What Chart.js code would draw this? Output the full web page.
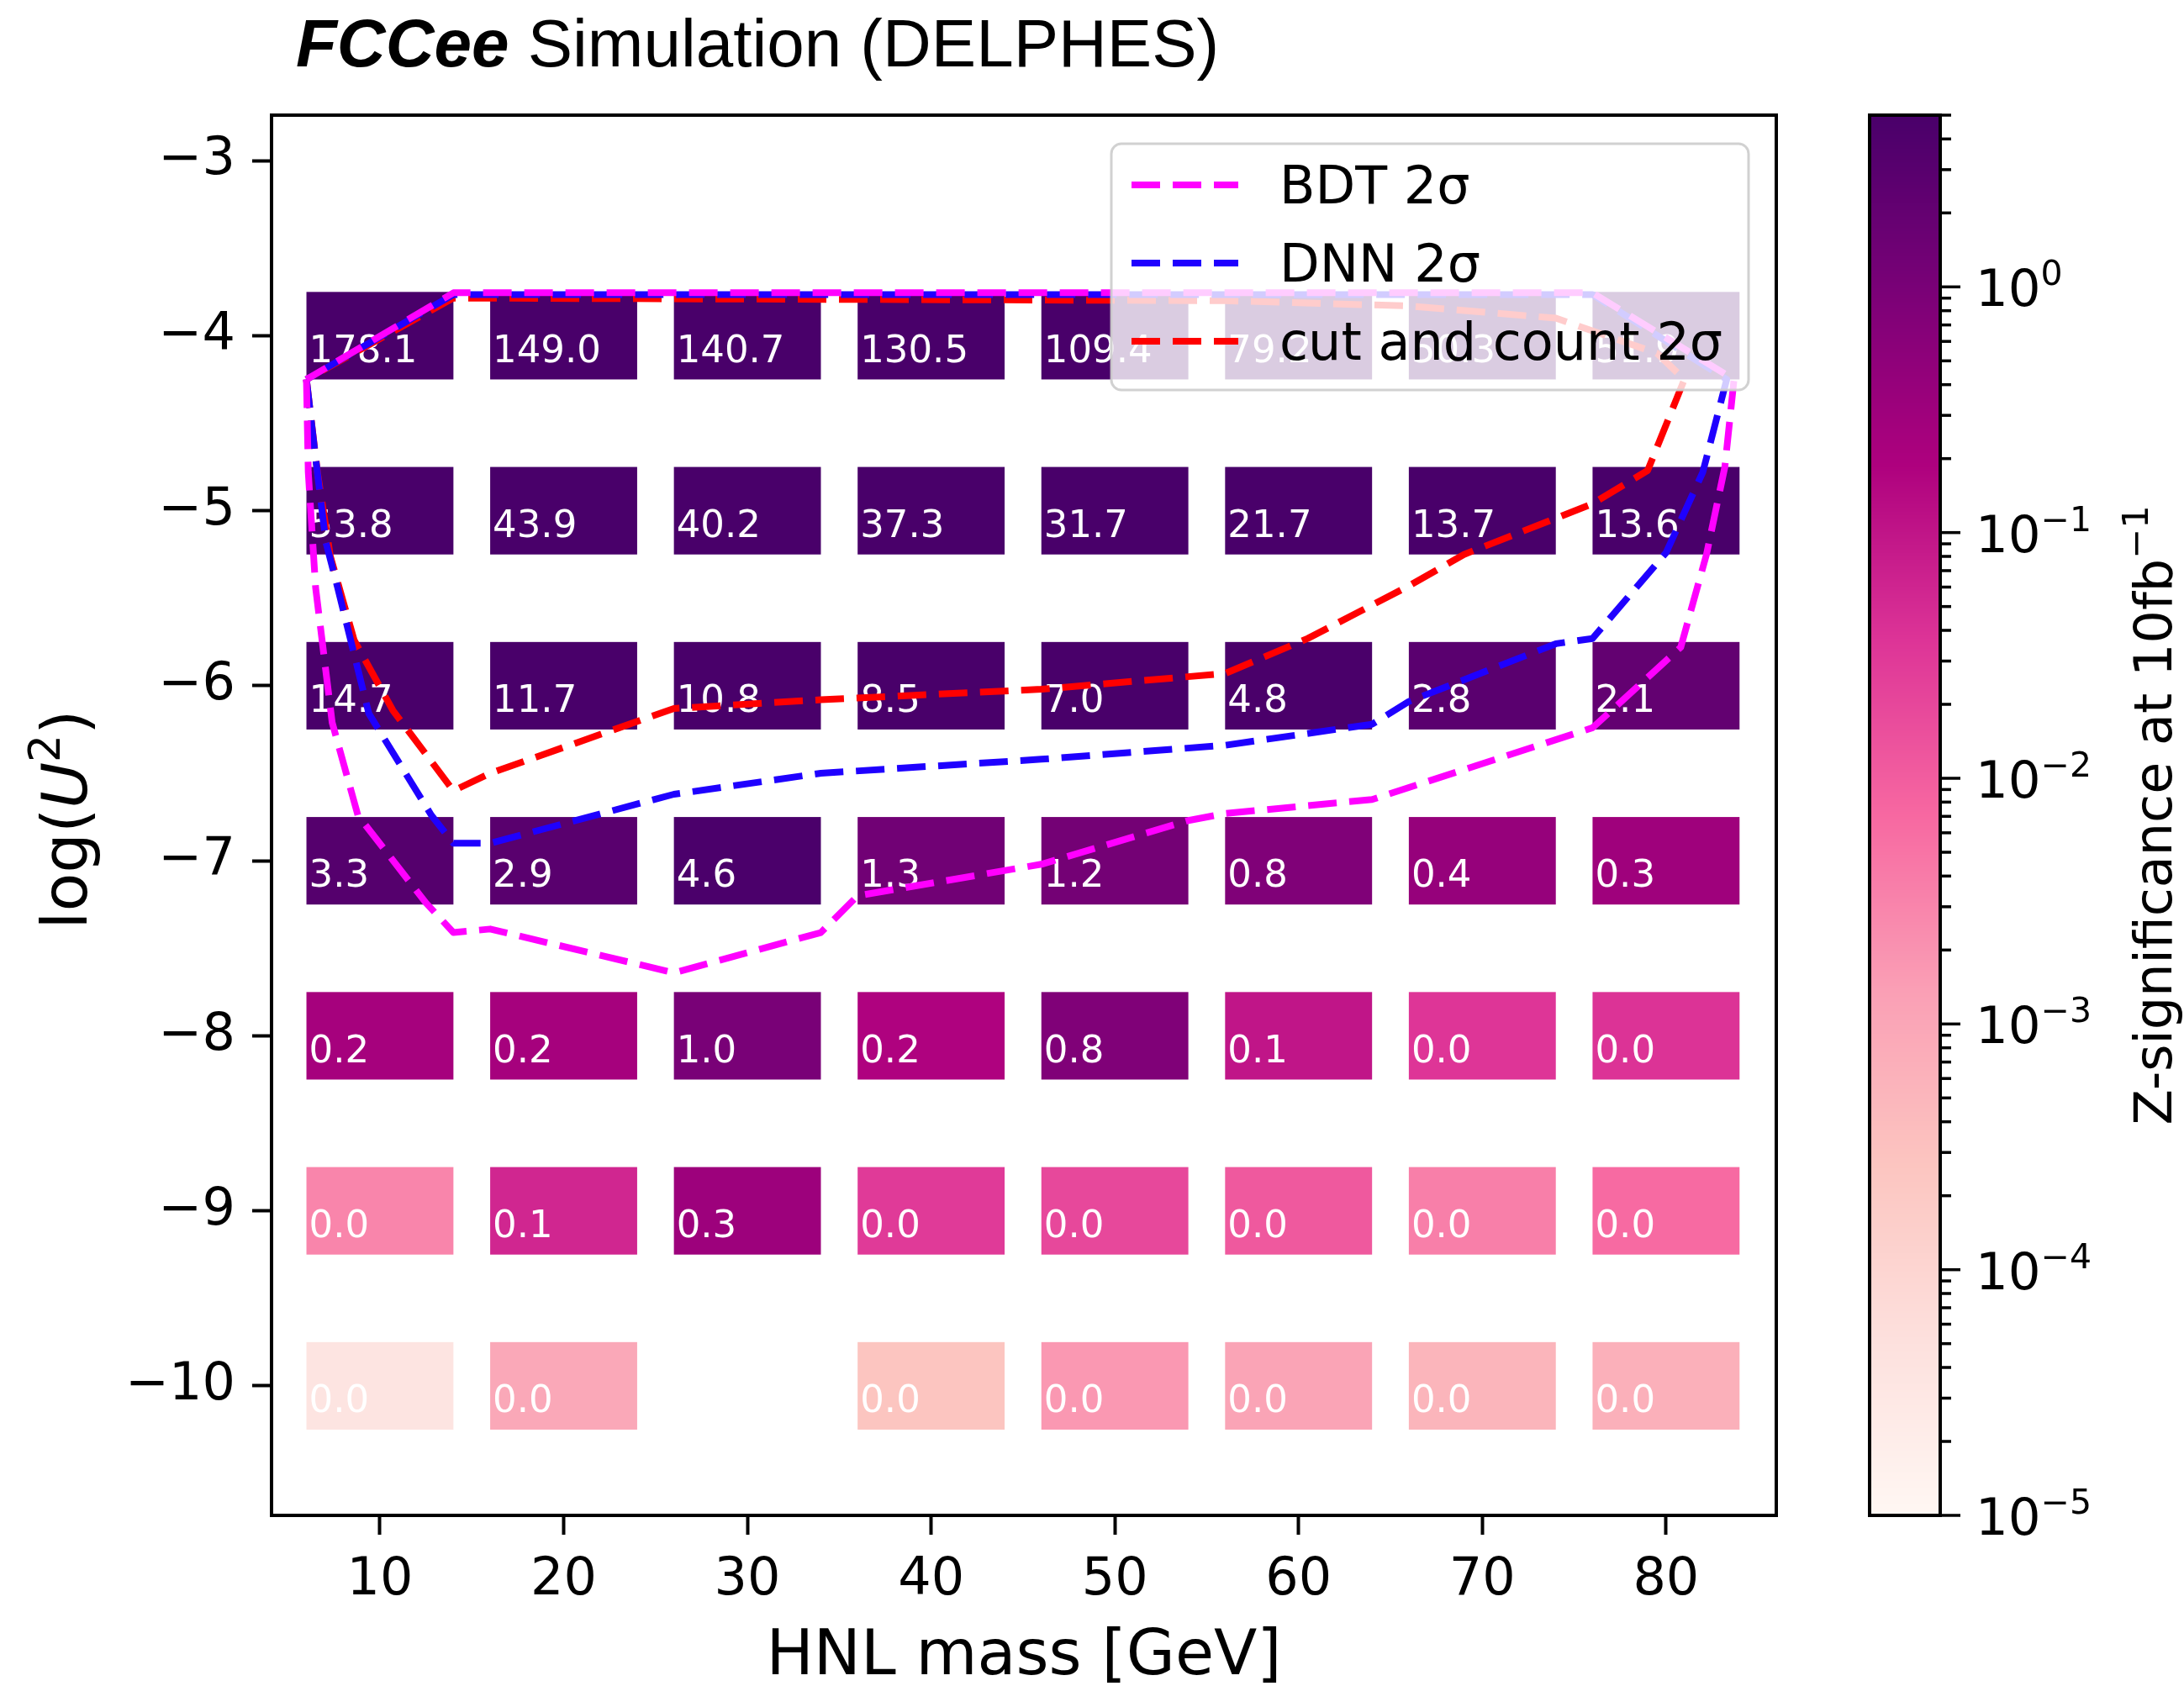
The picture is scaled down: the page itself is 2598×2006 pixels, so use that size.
<!DOCTYPE html>
<html><head><meta charset="utf-8">
<script src="https://cdn.jsdelivr.net/npm/chart.js@4.4.1/dist/chart.umd.min.js"></script>
<style>html,body{margin:0;padding:0;background:#fff;overflow:hidden}canvas{display:block}</style>
</head><body>
<canvas id="c" width="2598" height="2006" style="width:2598px;height:2006px"></canvas>
<script>
// ---------------- data ----------------
const masses = [10, 20, 30, 40, 50, 60, 70, 80];
const logU2Rows = [-4, -5, -6, -7, -8, -9, -10];
// Z-significance per row (values estimated from labels and colours)
const zRowM4  = [178.1, 149.0, 140.7, 130.5, 109.4, 79.2, 50.3, 51.9];
const zRowM5  = [53.8, 43.9, 40.2, 37.3, 31.7, 21.7, 13.7, 13.6];
const zRowM6  = [14.7, 11.7, 10.8, 8.5, 7.0, 4.8, 2.8, 2.1];
const zRowM7  = [3.3, 2.9, 4.6, 1.3, 1.2, 0.8, 0.4, 0.3];
const zRowM8  = [0.24, 0.24, 1.0, 0.18, 0.8, 0.1, 0.035, 0.038];
const zRowM9  = [0.003, 0.058, 0.32, 0.030, 0.0195, 0.0115, 0.0036, 0.0066];
const zRowM10 = [0.000039, 0.00093, null, 0.00027, 0.0017, 0.0011, 0.00053, 0.00066];

const bdtMass  = [6, 6.1, 6.5, 7.4, 8.8, 12.5, 14, 16, 26, 34, 36, 46, 54, 56, 64, 76, 80.8, 82.2, 83.2, 83.7, 76, 14, 6];
const bdtLogU2 = [-4.25, -4.78, -5.44, -6.21, -6.74, -7.24, -7.41, -7.39, -7.64, -7.41, -7.2, -7.02, -6.77, -6.73, -6.65, -6.24, -5.78, -5.25, -4.75, -4.25, -3.755, -3.755, -4.25];
const dnnMass  = [6, 6.5, 7.06, 7.7, 9.4, 12.8, 14, 16, 26, 34, 46, 56, 64, 66, 74, 76, 80, 82, 83.3, 76, 14, 6];
const dnnLogU2 = [-4.25, -4.7, -5.18, -5.44, -6.16, -6.74, -6.9, -6.9, -6.62, -6.5, -6.42, -6.34, -6.22, -6.09, -5.76, -5.73, -5.24, -4.78, -4.25, -3.765, -3.765, -4.25];
const ccMass   = [6, 6.6, 7.3, 8.6, 10.7, 14, 16, 26, 34, 46, 56, 60.5, 66, 69, 76, 79, 81, 79.5, 74, 66, 56, 14, 6];
const ccLogU2  = [-4.25, -4.78, -5.26, -5.74, -6.14, -6.6, -6.5, -6.13, -6.08, -6.02, -5.93, -5.73, -5.43, -5.25, -4.96, -4.77, -4.25, -4.1, -3.9, -3.83, -3.8, -3.785, -4.25];

const seriesNames = ['BDT 2σ', 'DNN 2σ', 'cut and count 2σ'];
const xTicks = [10, 20, 30, 40, 50, 60, 70, 80];
const xTickLabels = ['10', '20', '30', '40', '50', '60', '70', '80'];
const yTicks = [-3, -4, -5, -6, -7, -8, -9, -10];
const yTickLabels = ['−3', '−4', '−5', '−6', '−7', '−8', '−9', '−10'];
const cbDecades = [-5, -4, -3, -2, -1, 0];
const cbDecadeLabels = ['−5', '−4', '−3', '−2', '−1', '0'];
const zMin = 1e-5, zMax = 5;

// ---------------- styling helpers ----------------
const zRows = [zRowM4, zRowM5, zRowM6, zRowM7, zRowM8, zRowM9, zRowM10];
const RDPU = [[255,247,243],[253,224,221],[252,197,192],[250,159,181],[247,104,161],[221,52,151],[174,1,126],[122,1,119],[73,0,106]];
function rdpu(t) {
  t = Math.max(0, Math.min(1, t));
  const s = t * 8, i = Math.min(7, Math.floor(s)), f = s - i;
  const a = RDPU[i], b = RDPU[i + 1];
  return 'rgb(' + [0,1,2].map(k => Math.round(a[k] + (b[k] - a[k]) * f)).join(',') + ')';
}
function cbFraction(chart, v) {
  const cb = chart.scales.cb;
  const p0 = cb.getPixelForValue(zMin), p1 = cb.getPixelForValue(zMax);
  return (cb.getPixelForValue(v) - p0) / (p1 - p0);
}
const FONT = 'DejaVu Sans';
const DASH = [34, 15];
const LW = 8;
const COLORS = ['#ff00ff', '#1f00ff', '#ff0000'];

function drawParts(ctx, parts, x, y, align) {
  let w = 0;
  parts.forEach(p => { ctx.font = p.font; p.w = ctx.measureText(p.t).width; w += p.w; });
  let cx = align === 'center' ? x - w / 2 : x;
  parts.forEach(p => { ctx.font = p.font; ctx.fillText(p.t, cx, y + (p.dy || 0)); cx += p.w; });
}

const cellsPlugin = {
  id: 'cells',
  beforeDatasetsDraw(chart) {
    const ctx = chart.ctx, xs = chart.scales.x, ys = chart.scales.y;
    ctx.save();
    zRows.forEach((row, r) => {
      row.forEach((v, c) => {
        if (v === null) return;
        const x0 = xs.getPixelForValue(masses[c] - 4), x1 = xs.getPixelForValue(masses[c] + 4);
        const y0 = ys.getPixelForValue(logU2Rows[r] + 0.25), y1 = ys.getPixelForValue(logU2Rows[r] - 0.25);
        ctx.fillStyle = rdpu(cbFraction(chart, v));
        ctx.fillRect(x0, y0, x1 - x0, y1 - y0);
      });
    });
    ctx.fillStyle = '#ffffff';
    ctx.font = '45px "' + FONT + '"';
    ctx.textAlign = 'left';
    ctx.textBaseline = 'alphabetic';
    zRows.forEach((row, r) => {
      row.forEach((v, c) => {
        if (v === null) return;
        const x0 = xs.getPixelForValue(masses[c] - 4);
        ctx.fillText(v.toFixed(1), x0 + 3, ys.getPixelForValue(logU2Rows[r] - 0.15));
      });
    });
    ctx.restore();
  }
};

const decorPlugin = {
  id: 'decor',
  afterDatasetsDraw(chart) {
    const ctx = chart.ctx;
    // legend
    ctx.save();
    const lx = 1322, ly = 171, lw = 758, lh = 293, rr = 12;
    ctx.beginPath();
    ctx.roundRect(lx, ly, lw, lh, rr);
    ctx.fillStyle = 'rgba(255,255,255,0.8)';
    ctx.fill();
    ctx.lineWidth = 3;
    ctx.strokeStyle = 'rgba(204,204,204,0.9)';
    ctx.stroke();
    const rowsY = [220, 313, 406];
    seriesNames.forEach((name, i) => {
      ctx.beginPath();
      ctx.setLineDash(DASH);
      ctx.lineWidth = LW;
      ctx.lineCap = 'butt';
      ctx.strokeStyle = COLORS[i];
      ctx.moveTo(1346, rowsY[i]);
      ctx.lineTo(1473, rowsY[i]);
      ctx.stroke();
      ctx.setLineDash([]);
      ctx.fillStyle = '#000';
      ctx.font = '62px "' + FONT + '"';
      ctx.textAlign = 'left';
      ctx.textBaseline = 'alphabetic';
      ctx.fillText(name, 1522, rowsY[i] + 22);
    });
    ctx.restore();
  },
  afterDraw(chart) {
    const ctx = chart.ctx, a = chart.chartArea;
    ctx.save();
    // frame
    ctx.strokeStyle = '#000';
    ctx.lineWidth = 4;
    ctx.strokeRect(a.left, a.top, a.right - a.left, a.bottom - a.top);

    // title
    ctx.fillStyle = '#000';
    ctx.textAlign = 'left';
    ctx.textBaseline = 'alphabetic';
    drawParts(ctx, [
      {t: 'FCCee', font: 'italic bold 80px "Liberation Sans"'},
      {t: ' Simulation (DELPHES)', font: '80px "Liberation Sans"'}
    ], 352, 79, 'left');

    // x label
    ctx.font = '75px "' + FONT + '"';
    ctx.textAlign = 'center';
    ctx.fillText('HNL mass [GeV]', (a.left + a.right) / 2, 1992);

    // y label
    ctx.save();
    ctx.translate(103, 975);
    ctx.rotate(-Math.PI / 2);
    ctx.textAlign = 'left';
    drawParts(ctx, [
      {t: 'log(', font: '75px "' + FONT + '"'},
      {t: 'U', font: 'italic 75px "' + FONT + '"'},
      {t: '2', font: '52px "' + FONT + '"', dy: -32},
      {t: ')', font: '75px "' + FONT + '"'}
    ], 0, 0, 'center');
    ctx.restore();

    // colorbar
    const cb = chart.scales.cb;
    const cx0 = 2224, cx1 = 2308;
    const pTop = cb.getPixelForValue(zMax), pBot = cb.getPixelForValue(zMin);
    for (let py = Math.floor(pTop); py < Math.ceil(pBot); py++) {
      const t = (pBot - (py + 0.5)) / (pBot - pTop);
      ctx.fillStyle = rdpu(t);
      ctx.fillRect(cx0, py, cx1 - cx0, 1.2);
    }
    ctx.strokeStyle = '#000';
    ctx.lineWidth = 4;
    ctx.strokeRect(cx0, pTop, cx1 - cx0, pBot - pTop);
    // ticks
    ctx.lineWidth = 3.5;
    cbDecades.forEach((d, i) => {
      for (let m = 1; m <= 9; m++) {
        const v = m * Math.pow(10, d);
        if (v > zMax * 1.0001) break;
        const py = cb.getPixelForValue(v);
        ctx.beginPath();
        ctx.moveTo(cx1, py);
        ctx.lineTo(cx1 + (m === 1 ? 24 : 13), py);
        ctx.stroke();
      }
      const py = cb.getPixelForValue(Math.pow(10, d));
      ctx.fillStyle = '#000';
      ctx.textAlign = 'left';
      drawParts(ctx, [
        {t: '10', font: '61px "' + FONT + '"'},
        {t: cbDecadeLabels[i], font: '41px "' + FONT + '"', dy: -25}
      ], 2350, py + 23, 'left');
    });
    // colorbar label
    ctx.save();
    ctx.translate(2583, (pTop + pBot) / 2);
    ctx.rotate(-Math.PI / 2);
    drawParts(ctx, [
      {t: 'Z-significance at 10fb', font: '62px "' + FONT + '"'},
      {t: '−1', font: '43px "' + FONT + '"', dy: -28}
    ], 0, 0, 'center');
    ctx.restore();

    ctx.restore();
  }
};

const mk = (xsArr, ysArr) => xsArr.map((x, i) => ({x: x, y: ysArr[i]}));
const lineDs = (label, data, color) => ({
  label: label, data: data, xAxisID: 'x', yAxisID: 'y',
  borderColor: color, backgroundColor: color, borderWidth: LW, borderDash: DASH,
  borderCapStyle: 'butt', borderJoinStyle: 'round',
  pointRadius: 0, pointHoverRadius: 0, fill: false, tension: 0
});

new Chart(document.getElementById('c').getContext('2d'), {
  type: 'line',
  data: {
    datasets: [
      lineDs(seriesNames[0], mk(bdtMass, bdtLogU2), COLORS[0]),
      lineDs(seriesNames[1], mk(dnnMass, dnnLogU2), COLORS[1]),
      lineDs(seriesNames[2], mk(ccMass, ccLogU2), COLORS[2])
    ]
  },
  options: {
    responsive: false, animation: false, devicePixelRatio: 1,
    layout: {padding: {top: 137, right: 485, left: 0, bottom: 0}},
    plugins: {legend: {display: false}, tooltip: {enabled: false}, title: {display: false}},
    scales: {
      x: {
        type: 'linear', position: 'bottom', min: 4.1, max: 86,
        afterFit(s) { s.height = 203; },
        afterBuildTicks(s) { s.ticks = xTicks.map(v => ({value: v})); },
        ticks: {autoSkip: false, maxRotation: 0, color: '#000', padding: 18,
          font: {family: FONT, size: 62},
          callback: v => xTickLabels[xTicks.indexOf(v)]},
        grid: {drawOnChartArea: false, drawTicks: true, tickLength: 23, tickWidth: 4, tickColor: '#000'},
        border: {display: false}
      },
      y: {
        type: 'linear', position: 'left', min: -10.74, max: -2.74,
        afterFit(s) { s.width = 323; },
        afterBuildTicks(s) { s.ticks = yTicks.map(v => ({value: v})); },
        ticks: {autoSkip: false, color: '#000', padding: 20,
          font: {family: FONT, size: 62},
          callback: v => yTickLabels[yTicks.indexOf(v)]},
        grid: {drawOnChartArea: false, drawTicks: true, tickLength: 23, tickWidth: 4, tickColor: '#000'},
        border: {display: false}
      },
      cb: {type: 'logarithmic', position: 'right', display: false, min: zMin, max: zMax}
    }
  },
  plugins: [cellsPlugin, decorPlugin]
});
</script>
</body></html>
